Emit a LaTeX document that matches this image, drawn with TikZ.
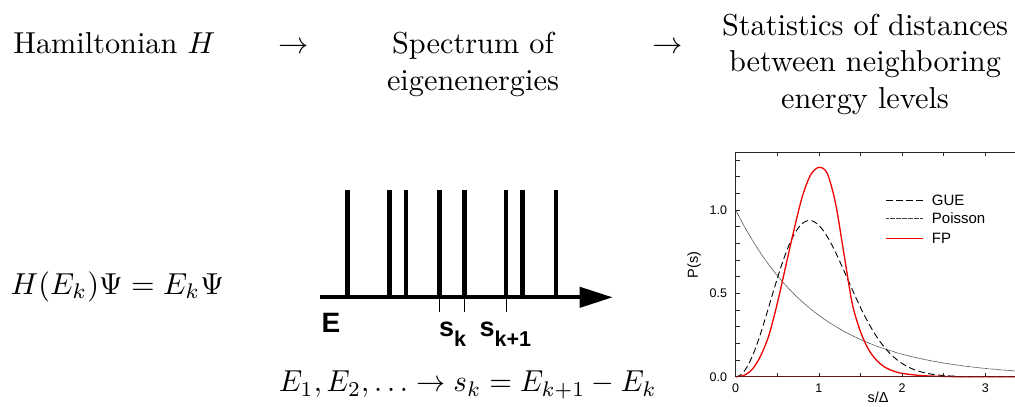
\documentclass[tikz,border=0pt]{standalone}
\usepackage{fontspec}
\newfontfamily\arial{Liberation Sans}
\usetikzlibrary{arrows.meta}
\definecolor{axisred}{RGB}{105,22,22}
\definecolor{fpred}{RGB}{240,0,0}
\begin{document}
\begin{tikzpicture}[x=1pt,y=-1pt,
  bigtext/.style={scale=3.03, inner sep=0pt, align=center},
  sanslbl/.style={inner sep=0pt, font=\arial\bfseries\fontsize{27}{27}\selectfont},
  ticklbl/.style={inner sep=0pt, font=\arial\fontsize{12.5}{12.5}\selectfont},
  leglbl/.style={inner sep=0pt, anchor=west, font=\arial\fontsize{15}{15}\selectfont},
  axlbl/.style={inner sep=0pt, font=\arial\fontsize{14.5}{14.5}\selectfont},
  bar/.style={line width=4.7pt},
  frameline/.style={line width=0.9pt, color=black!85},
  gue/.style={line width=0.9pt, dash pattern=on 6.5pt off 3.5pt},
  poisson/.style={line width=0.7pt, color=black!75, dash pattern=on 0.7pt off 0.5pt},
  fp/.style={line width=1.3pt, color=fpred}]
\useasboundingbox (0,0) rectangle (1015,407);

% top row
\node[bigtext, anchor=base west] (ham) at (12.7,53.3) {Hamiltonian $H$};
\node[bigtext, anchor=base] (ar1) at (294,53.3) {$\rightarrow$};
\node[bigtext, anchor=base] (spec) at (473,90) {Spectrum of\\eigenenergies};
\node[bigtext, anchor=base] (ar2) at (668,53.3) {$\rightarrow$};
\node[bigtext, anchor=base] (stat) at (865,108.3) {Statistics of distances\\between neighboring\\energy levels};

% equations
\node[bigtext, anchor=base west] (schr) at (10,294.3) {$H(E_k)\Psi = E_k\Psi$};
\node[inner sep=0pt, xscale=2.91, yscale=3.03, anchor=base] (diff) at (468,391.7) {$E_1, E_2, \ldots \rightarrow s_k = E_{k+1} - E_k$};

% spectrum sketch
\coordinate (axs) at (320,297.3);
\coordinate (axe) at (612.7,297.3);
\foreach \xx in {347.7,389.3,406,439.3,464.3,506,522.7,556}
  \draw[bar] (\xx,190) -- (\xx,297.3);
\foreach \xx in {439.3,464.3,506}
  \draw[line width=1pt] (\xx,297.3) -- (\xx,311.7);
\draw[line width=4pt, -{Triangle[length=33pt,width=20pt]}] (axs) -- (axe);
\node[sanslbl, anchor=base west, font=\arial\bfseries\fontsize{28}{28}\selectfont] (E) at (321.5,332) {E};
\node[sanslbl, anchor=base west] (sk) at (439,336.7) {s\raisebox{-10pt}{\fontsize{21.5}{21.5}\selectfont k}};
\node[sanslbl, anchor=base west] (skk) at (479.5,336.7) {s\raisebox{-10pt}{\fontsize{21.5}{21.5}\selectfont k+1}};

% plot
\begin{scope}[shift={(735.7,376.7)}, x=83.2pt, y=166.7pt]
  \begin{scope}
    \clip (0,-0.05) rectangle (3.357,1.4);
    \draw[poisson] plot[domain=0:3.4, samples=100] (\x, {exp(-\x)});
    \draw[gue] plot[domain=0:3.4, samples=150] (\x, {32/(pi*pi)*\x*\x*exp(-4*\x*\x/pi)});
    \draw[fp] plot[smooth] coordinates {(0,0) (0.1,0.008) (0.2,0.045) (0.3,0.125) (0.4,0.25) (0.5,0.44) (0.6,0.66) (0.7,0.88) (0.8,1.08) (0.9,1.21) (1.0,1.256) (1.1,1.22) (1.2,1.04) (1.3,0.74) (1.4,0.44) (1.5,0.27) (1.6,0.16) (1.7,0.095) (1.8,0.055) (1.9,0.033) (2.0,0.02) (2.2,0.008) (2.4,0.003) (2.7,0) (3.4,0)};
  \end{scope}
  \draw[frameline] (0,0) -- (0,1.346) -- (3.357,1.346);
  \draw[line width=1.5pt, color=axisred] (0,0) -- (3.357,0);
  \foreach \v in {0.1,0.2,...,1.31}
    \draw[frameline, line width=0.6pt] (0,\v) -- ++(4pt,0);
  \foreach \u in {0.5,1,...,3.1} {
    \draw[frameline, line width=0.6pt] (\u,1.346) -- ++(0,-4pt);
    \draw[frameline, line width=0.6pt] (\u,0) -- ++(0,4pt);
  }
  \node[ticklbl, anchor=east, xshift=-8.5pt] (y0) at (0,0) {0.0};
  \node[ticklbl, anchor=east, xshift=-8.5pt] (y05) at (0,0.5) {0.5};
  \node[ticklbl, anchor=east, xshift=-8.5pt] (y1) at (0,1) {1.0};
  \node[ticklbl, anchor=north, yshift=-7pt] (x0) at (0,0) {0};
  \node[ticklbl, anchor=north, yshift=-7pt] (x1) at (1,0) {1};
  \node[ticklbl, anchor=north, yshift=-7pt] (x2) at (2,0) {2};
  \node[ticklbl, anchor=north, yshift=-7pt] (x3) at (3,0) {3};
\end{scope}
\node[axlbl, rotate=90] (ylab) at (694,265) {P(s)};
\node[axlbl, anchor=north] (xlab) at (878,392) {s/Δ};

% legend
\coordinate (g1) at (886,200); \coordinate (g2) at (922.7,200);
\coordinate (p1) at (886,218.3); \coordinate (p2) at (922.7,218.3);
\coordinate (f1) at (886,238.3); \coordinate (f2) at (922.7,238.3);
\draw[gue] (g1) -- (g2);
\draw[poisson] (p1) -- (p2);
\draw[fp] (f1) -- (f2);
\node[leglbl] (lg) at (931.7,200) {GUE};
\node[leglbl] (lp) at (931.7,218.3) {Poisson};
\node[leglbl] (lf) at (931.7,238.3) {FP};
\end{tikzpicture}
\end{document}
